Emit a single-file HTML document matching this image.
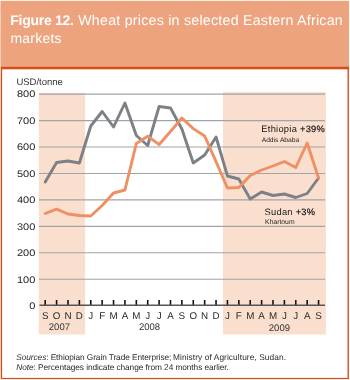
<!DOCTYPE html>
<html><head><meta charset="utf-8"><style>
html,body{margin:0;padding:0;width:350px;height:380px;overflow:hidden;background:#fff}
svg{position:absolute;left:0;top:0;will-change:transform}
text{font-family:"Liberation Sans",sans-serif;text-rendering:geometricPrecision}
</style></head><body>
<svg width="350" height="380" viewBox="0 0 350 380">
<rect x="0" y="0" width="350" height="380" fill="#fff"/>
<rect x="0" y="0" width="1" height="380" fill="#F6CDB8"/><rect x="0" y="0" width="350" height="1" fill="#FCEDE5"/>
<rect x="1" y="1" width="348" height="67" fill="#EDA37E"/>
<rect x="1" y="66.8" width="348" height="2.5" fill="#D54E18"/>
<rect x="1" y="67" width="1.1" height="312" fill="#D54E18"/>
<rect x="347.5" y="67" width="1.4" height="312" fill="#D54E18"/>
<rect x="1" y="377.9" width="347.9" height="1.1" fill="#D54E18"/><rect x="0" y="379" width="350" height="1" fill="#FBEDE6"/>
<text x="10.3" y="25.3" font-size="14" fill="#fff" font-weight="bold" textLength="63.6" lengthAdjust="spacing">Figure 12.</text>
<text x="78.2" y="25.3" font-size="14.2" fill="#fff" textLength="264.5" lengthAdjust="spacing">Wheat prices in selected Eastern African</text>
<text x="10.5" y="42.9" font-size="14" fill="#fff" letter-spacing="0.2">markets</text>
<rect x="38.8" y="92.9" width="46.3" height="241.6" fill="#FADFCF"/>
<rect x="223" y="92" width="102.9" height="242.5" fill="#FADFCF"/>
<g stroke="#A0A3A7" stroke-width="1.1"><line x1="39" y1="279.20" x2="325" y2="279.20"/><line x1="39" y1="252.77" x2="325" y2="252.77"/><line x1="39" y1="226.33" x2="325" y2="226.33"/><line x1="39" y1="199.90" x2="325" y2="199.90"/><line x1="39" y1="173.46" x2="325" y2="173.46"/><line x1="39" y1="147.02" x2="325" y2="147.02"/><line x1="39" y1="120.59" x2="325" y2="120.59"/><line x1="39" y1="94.15" x2="325" y2="94.15"/></g>
<g stroke="#111" stroke-width="1.6"><line x1="45.20" y1="300" x2="45.20" y2="305"/><line x1="56.59" y1="300" x2="56.59" y2="305"/><line x1="67.98" y1="300" x2="67.98" y2="305"/><line x1="79.37" y1="300" x2="79.37" y2="305"/><line x1="90.76" y1="300" x2="90.76" y2="305"/><line x1="102.15" y1="300" x2="102.15" y2="305"/><line x1="113.54" y1="300" x2="113.54" y2="305"/><line x1="124.93" y1="300" x2="124.93" y2="305"/><line x1="136.32" y1="300" x2="136.32" y2="305"/><line x1="147.71" y1="300" x2="147.71" y2="305"/><line x1="159.10" y1="300" x2="159.10" y2="305"/><line x1="170.49" y1="300" x2="170.49" y2="305"/><line x1="181.88" y1="300" x2="181.88" y2="305"/><line x1="193.27" y1="300" x2="193.27" y2="305"/><line x1="204.66" y1="300" x2="204.66" y2="305"/><line x1="216.05" y1="300" x2="216.05" y2="305"/><line x1="227.44" y1="300" x2="227.44" y2="305"/><line x1="238.83" y1="300" x2="238.83" y2="305"/><line x1="250.22" y1="300" x2="250.22" y2="305"/><line x1="261.61" y1="300" x2="261.61" y2="305"/><line x1="273.00" y1="300" x2="273.00" y2="305"/><line x1="284.39" y1="300" x2="284.39" y2="305"/><line x1="295.78" y1="300" x2="295.78" y2="305"/><line x1="307.17" y1="300" x2="307.17" y2="305"/><line x1="318.56" y1="300" x2="318.56" y2="305"/></g>
<line x1="39.5" y1="305.2" x2="325" y2="305.2" stroke="#555" stroke-width="1.5"/>
<text x="16.4" y="84.9" font-size="9.5" fill="#333">USD/tonne</text>
<g transform="translate(35.3 0) scale(1.16 1)" font-size="9.5" fill="#222" text-anchor="end"><text x="0" y="309.10">0</text><text x="0" y="282.64">100</text><text x="0" y="256.18">200</text><text x="0" y="229.72">300</text><text x="0" y="203.26">400</text><text x="0" y="176.80">500</text><text x="0" y="150.34">600</text><text x="0" y="123.88">700</text><text x="0" y="97.42">800</text></g>
<g font-size="9.8" fill="#2a2a2a" text-anchor="middle"><text x="45.20" y="318.6">S</text><text x="56.59" y="318.6">O</text><text x="67.98" y="318.6">N</text><text x="79.37" y="318.6">D</text><text x="90.76" y="318.6">J</text><text x="102.15" y="318.6">F</text><text x="113.54" y="318.6">M</text><text x="124.93" y="318.6">A</text><text x="136.32" y="318.6">M</text><text x="147.71" y="318.6">J</text><text x="159.10" y="318.6">J</text><text x="170.49" y="318.6">A</text><text x="181.88" y="318.6">S</text><text x="193.27" y="318.6">O</text><text x="204.66" y="318.6">N</text><text x="216.05" y="318.6">D</text><text x="227.44" y="318.6">J</text><text x="238.83" y="318.6">F</text><text x="250.22" y="318.6">M</text><text x="261.61" y="318.6">A</text><text x="273.00" y="318.6">M</text><text x="284.39" y="318.6">J</text><text x="295.78" y="318.6">J</text><text x="307.17" y="318.6">A</text><text x="318.56" y="318.6">S</text></g>
<g font-size="9.5" fill="#333" text-anchor="middle"><text x="59.4" y="330.3">2007</text><text x="149.5" y="330.3">2008</text><text x="279.4" y="330.8">2009</text></g>
<polyline points="45.20,182 56.59,162.5 67.98,161 79.37,163 90.76,126 102.15,111.5 113.54,127 124.93,103 136.32,135.5 147.71,145.5 159.10,106.5 170.49,108 181.88,129 193.27,163 204.66,155 216.05,137 227.44,176 238.83,179 250.22,199 261.61,192 273.00,195.5 284.39,194 295.78,197.5 307.17,193.5 318.56,178" fill="none" stroke="#7D8186" stroke-width="2.9" stroke-linejoin="round" stroke-linecap="round"/>
<polyline points="45.20,213.5 56.59,209.2 67.98,214 79.37,215.5 90.76,216 102.15,205.5 113.54,193 124.93,190 136.32,143.5 147.71,136.2 159.10,144.5 170.49,131.5 181.88,118 193.27,128.6 204.66,136 216.05,161.6 227.44,188 238.83,187.5 250.22,175.5 261.61,170 273.00,166 284.39,161.5 295.78,167.5 307.17,143 318.56,178" fill="none" stroke="#EE9063" stroke-width="2.9" stroke-linejoin="round" stroke-linecap="round"/>
<text x="261.3" y="131.7" font-size="9.3" fill="#151515" textLength="63.5" lengthAdjust="spacing">Ethiopia <tspan stroke="#111" stroke-width="0.18">+39%</tspan></text>
<text x="261.7" y="141.7" font-size="6.7" fill="#1e1e1e">Addis Ababa</text>
<text x="264.5" y="215.1" font-size="9.3" fill="#151515" textLength="50.6" lengthAdjust="spacing">Sudan <tspan stroke="#111" stroke-width="0.2">+3%</tspan></text>
<text x="265.1" y="223.9" font-size="6.8" fill="#1e1e1e">Khartoum</text>
<text x="16.3" y="360.3" font-size="8.3" fill="#2a2a2a" textLength="155" lengthAdjust="spacing"><tspan font-style="italic">Sources</tspan>: Ethiopian Grain Trade Enterprise;</text><text x="173" y="360.3" font-size="8.3" fill="#2a2a2a" textLength="113" lengthAdjust="spacing">Ministry of Agriculture, Sudan.</text>
<text x="16.3" y="369.7" font-size="8.3" fill="#2a2a2a" textLength="212.6" lengthAdjust="spacing"><tspan font-style="italic">Note</tspan>: Percentages indicate change from 24 months earlier.</text>
</svg>
</body></html>
